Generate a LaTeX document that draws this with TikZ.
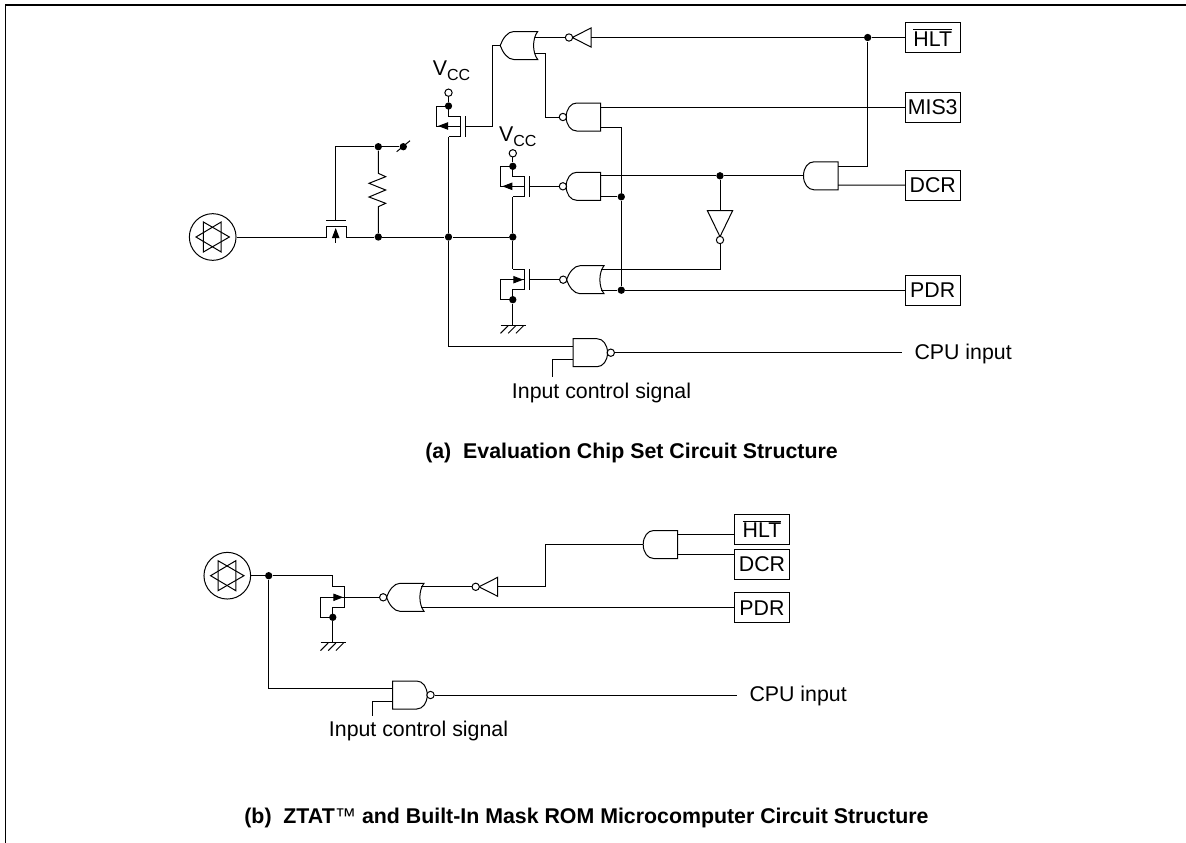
\documentclass[tikz,border=0pt]{standalone}
\usepackage{fontspec}
\setmainfont{Liberation Sans}
\usetikzlibrary{arrows.meta}
\newcommand{\barred}[1]{$\overline{\mbox{#1}}$}
\newcommand{\subcc}{V{\fontsize{12}{12}\selectfont\raisebox{-4pt}{CC}}}
\newcommand{\fetbody}[1]{
        \draw (-11.5,-20) -- (-11.5,-10) -- (0,-10) -- (0,10.5) -- (-11.5,10.5);
        \draw (-11.5,-20) -- (-23.5,-20) -- (-23.5,0) -- (0,0);
        \draw (#1,-10) -- (#1,10.5);
        \node[junction] (-dot) at (-11.5,-20) {};
        \coordinate (-bot) at (-11.5,10.5);
        \coordinate (-g) at (#1,0);
}
\newcommand{\andshape}[1]{
        \draw (0,-14) -- (24,-14) .. controls (30,-14) and (34.5,-8) .. (34.5,0) .. controls (34.5,8) and (30,14) .. (24,14) -- (0,14) -- cycle;
        \coordinate (-in1) at (0,-#1);
        \coordinate (-in2) at (0,#1);
        \coordinate (-out) at (34.5,0);
}
\newcommand{\orshape}[1]{
        \draw (0,-14) -- (24,-14) .. controls (30,-14) and (35,-7) .. (37.5,0) .. controls (35,7) and (30,14) .. (24,14) -- (0,14) .. controls (5.5,7) and (5.5,-7) .. (0,-14) -- cycle;
        \coordinate (-in1) at (3,-#1);
        \coordinate (-in2) at (3,#1);
        \coordinate (-out) at (37.5,0);
}
\tikzset{
    junction/.style={circle, fill, inner sep=0pt, minimum size=5.5pt},
    bubble/.style={circle, draw, fill=white, inner sep=0pt, minimum size=5.5pt},
    tagbox/.style={draw, rectangle, minimum width=41pt, minimum height=22.5pt, inner sep=0pt},
    fettip/.style={-{Triangle[length=7.5pt, width=5.5pt]}},
    pics/pmosfet/.style={code={\fetbody{#1}\draw[fettip] (0,0) -- (-22,0);}},
    pics/nmosfet/.style={code={\fetbody{#1}\draw[fettip] (-23.5,0) -- (-1,0);}},
    pics/andgate/.style={code={\andshape{#1}}},
    pics/nandgate/.style={code={\andshape{#1}\node[bubble] (-bub) at (37.8,0) {};}},
    pics/orgate/.style={code={\orshape{#1}}},
    pics/norgate/.style={code={\orshape{#1}\node[bubble] (-bub) at (40.8,0) {};}},
    pics/invgate/.style 2 args={code={
        \draw (0,-#2) -- (#1,0) -- (0,#2) -- cycle;
        \node[bubble] (-bub) at ({#1+3.3},0) {};
        \coordinate (-in) at (0,0);
    }},
    pics/padstar/.style={code={
        \node[circle, draw, inner sep=0pt, minimum size=35pt] (-ring) at (0,0) {};
        \draw (16.7,0) -- (-9.3,-15) -- (-9.3,15) -- cycle;
        \draw (-16.7,0) -- (8.5,-15) -- (8.5,15) -- cycle;
    }},
    pics/groundbar/.style={code={
        \draw (-12.3,0) -- (12.8,0);
        \draw (-4.7,0.7) -- (-12.3,8.3);
        \draw (3,0.7) -- (-4.6,8.3);
        \draw (10.7,0.7) -- (3.1,8.3);
        \coordinate (-top) at (0,0);
    }},
}

\begin{document}
\begin{tikzpicture}[x=0.75pt, y=-0.75pt, line width=0.75pt, every node/.style={font=\fontsize{16}{18}\selectfont, inner sep=0pt}]
        \useasboundingbox (0,0) rectangle (1186,843);
        \draw[line width=1pt] (5.5,843) -- (5.5,5) -- (1186,5);

        \pic (pad1) at (212.7,237) {padstar};
        \coordinate (passl) at (326,237);
        \coordinate (passr) at (346,237);
        \coordinate (passg) at (335.7,220);
        \node[junction] (resa) at (378.3,237) {};
        \node[junction] (junc1) at (448.5,237) {};
        \node[junction] (junc2) at (512.8,237) {};
        \node[junction] (resb) at (378.3,146.7) {};
        \node[junction] (swdot) at (403.3,146.7) {};
        \coordinate (swa) at (396.7,151.7);
        \coordinate (swb) at (410,140.7);
        \coordinate (passtip) at (335.7,228);
        \coordinate (passtail) at (335.7,242.7);

        \pic (fet1) at (460,126) {pmosfet=5.5};
        \pic (fet2) at (524.3,186.3) {pmosfet=5};
        \pic[yscale=-1] (fet3) at (524.3,279.7) {nmosfet=5};
        \pic (gnd1) at (512.8,325) {groundbar};
        \node[bubble] (vcc1) at (448.5,92.7) {};
        \node[bubble] (vcc2) at (512.8,153.3) {};
        \node (vcclab1) at (451.5,71) {\subcc};
        \node (vcclab2) at (517.7,136.5) {\subcc};

        \pic[xscale=-1] (or1) at (537.7,45.5) {orgate=8};
        \pic[rotate=180] (inv1) at (591,37.5) {invgate={18.7}{9.5}};
        \pic[xscale=-1] (nand1) at (600.7,117) {nandgate=10};
        \pic[xscale=-1] (nand2) at (600.7,186.3) {nandgate=10.5};
        \pic[xscale=-1] (nor1) at (604,279.7) {norgate=10.5};
        \pic[xscale=-1] (and1) at (838,175.8) {andgate=9.3};
        \pic[rotate=-90] (inv2) at (720,210.7) {invgate={26}{12.6}};
        \pic (nand3) at (573,352.7) {nandgate=6.7};

        \node[junction] (hltj) at (867.7,37.5) {};
        \node[junction] (dotd) at (621.3,196.8) {};
        \node[junction] (dote) at (621.3,290.2) {};
        \node[junction] (dotf) at (720,175.8) {};
        \coordinate (bend1) at (545,53.5);
        \coordinate (bend2) at (492.3,45.5);
        \coordinate (cpuend1) at (902,352.7);
        \coordinate (ctrl1) at (552.3,376.7);

        \node[tagbox] (hlt1) at (932.7,37.5) {\barred{HLT}};
        \node[tagbox] (mis3) at (932.7,107) {MIS3};
        \node[tagbox] (dcr1) at (932.7,185.1) {DCR};
        \node[tagbox] (pdr1) at (932.7,290.2) {PDR};

        \draw (pad1-ring) -- (passl) -- (passl |- 0,226.7) -- (passr |- 0,226.7) -- (passr) -- (resa) -- (junc1) -- (junc2);
        \draw (passl |- 0,220) -- (passr |- 0,220);
        \draw (passg) |- (resb) -- (swdot);
        \draw (swa) -- (swb);
        \draw[fettip] (passtail) -- (passtip);
        \draw (resb) -- (378.3,173.3) -- (385.7,176.7) -- (369,183.3) -- (385.7,190) -- (369,197) -- (385.7,203.3) -- (378.3,206.7) -- (resa);

        \draw (vcc1) -- (fet1-dot);
        \draw (vcc2) -- (fet2-dot);
        \draw (fet1-bot) -- (junc1) |- (nand3-in1);
        \draw (fet2-bot) -- (junc2) -- (fet3-bot);
        \draw (fet3-dot) -- (gnd1-top);
        \draw (or1-out) -- (bend2) |- (fet1-g);
        \draw (inv1-bub) -- (or1-in1);
        \draw (or1-in2) -- (bend1) |- (nand1-bub);
        \draw (inv1-in) -- (hltj) -- (hlt1);
        \draw (nand1-in1) -- (mis3);
        \draw (nand1-in2) -| (dotd) -- (dote);
        \draw (nand2-in2) -- (dotd);
        \draw (nand2-bub) -- (fet2-g);
        \draw (nand2-in1) -- (dotf) -- (and1-out);
        \draw (dotf) -- (inv2-in);
        \draw (inv2-bub) |- (nor1-in1);
        \draw (nor1-bub) -- (fet3-g);
        \draw (nor1-in2) -- (dote) -- (pdr1);
        \draw (and1-in1) -| (hltj);
        \draw (and1-in2) -- (dcr1);
        \draw (nand3-bub) -- (cpuend1);
        \draw (nand3-in2) -| (ctrl1);

        \node[anchor=west] (cpulab1) at (914,354) {CPU input};
        \node (ctrllab1) at (601.5,393) {Input control signal};
        \node[font=\fontsize{16}{18}\selectfont\bfseries] (capa) at (631.5,453) {(a)\ \ Evaluation Chip Set Circuit Structure};

        \pic (pad2) at (227.3,575.7) {padstar};
        \node[junction] (dotg) at (268.7,575.7) {};
        \pic[yscale=-1] (fet4) at (344.3,597.3) {nmosfet=0};
        \pic (gnd2) at (332.8,642.3) {groundbar};
        \pic[xscale=-1] (nor2) at (424,597.3) {norgate=10.5};
        \pic[rotate=180] (inv3) at (497.7,586.8) {invgate={18.7}{9.5}};
        \pic[xscale=-1] (and2) at (677.7,544.5) {andgate=10.2};
        \pic (nand4) at (392.7,695) {nandgate=6.7};
        \coordinate (bend3) at (545.3,586.8);
        \coordinate (cpuend2) at (737,695);
        \coordinate (ctrl2) at (372.7,715.7);

        \node[tagbox] (hlt2) at (762,529.3) {\barred{HLT}};
        \node[tagbox] (dcr2) at (762,564) {DCR};
        \node[tagbox] (pdr2) at (762,607.8) {PDR};

        \draw (pad2-ring) -- (dotg) -| (fet4-bot);
        \draw (fet4-dot) -- (gnd2-top);
        \draw (nor2-bub) -- (fet4-g);
        \draw (nor2-in1) -- (inv3-bub);
        \draw (inv3-in) -- (bend3) |- (and2-out);
        \draw (and2-in1) -- (and2-in1 -| hlt2.west);
        \draw (and2-in2) -- (and2-in2 -| dcr2.west);
        \draw (nor2-in2) -- (pdr2);
        \draw (dotg) |- (nand4-in1);
        \draw (nand4-bub) -- (cpuend2);
        \draw (nand4-in2) -| (ctrl2);

        \node[anchor=west] (cpulab2) at (749,696) {CPU input};
        \node (ctrllab2) at (418.5,731) {Input control signal};
        \node[font=\fontsize{16}{18}\selectfont\bfseries] (capb) at (586.5,818) {(b)\ \ ZTAT{\mdseries ™} and Built-In Mask ROM Microcomputer Circuit Structure};
\end{tikzpicture}
\end{document}
